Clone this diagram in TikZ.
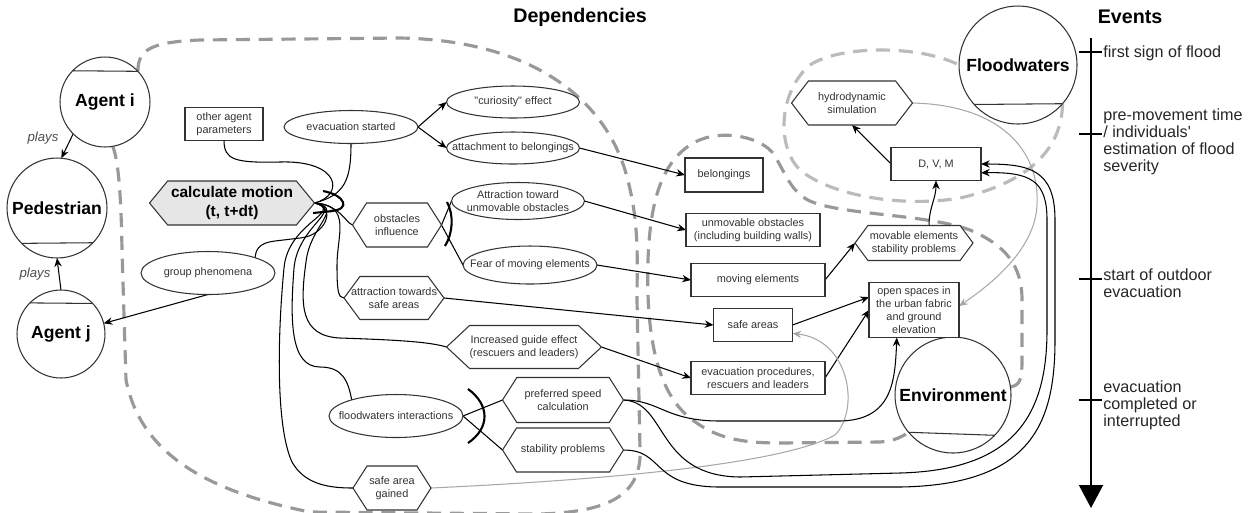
\documentclass[tikz,border=0pt]{standalone}
\usepackage{fontspec}
\setmainfont{Liberation Sans}
\newfontfamily\lsans{Liberation Sans}
\usetikzlibrary{shapes.geometric,shapes.symbols,arrows.meta,calc,backgrounds}
\definecolor{ink}{HTML}{333333}
\definecolor{dashA}{HTML}{999999}
\definecolor{dashC}{HTML}{BBBBBB}
\definecolor{lgray}{HTML}{A8A8A8}
\definecolor{hexfill}{HTML}{E6E6E6}
\tikzset{
  lbl/.style={inner sep=0pt, align=center, text=ink, font=\fontsize{6.2}{7.4}\selectfont},
  shp/.style={draw=ink, line width=0.6pt, fill=white, inner sep=0pt, outer sep=0pt},
  boxn/.style={shp, rectangle, align=center, text=ink, font=\fontsize{6.2}{7.4}\selectfont},
  ell/.style={shp, ellipse},
  hexn/.style={shp, signal, signal to=west and east},
  agent/.style={draw=ink, line width=0.6pt, fill=white, circle, inner sep=0pt, outer sep=0pt, font=\fontsize{10}{12}\selectfont\bfseries},
  conn/.style={draw=black, line width=0.6pt},
  arr/.style={conn, -{Stealth[length=5pt,width=4.2pt]}},
  garr/.style={draw=lgray, line width=0.6pt, -{Stealth[length=5pt,width=4.2pt]}},
  region/.style={line width=1.8pt, dash pattern=on 8pt off 5pt},
  gate/.style={draw=black, line width=1.2pt},
  evl/.style={inner sep=0pt, align=left, text=black!85, font=\lsans\fontsize{9.2}{9.64}\selectfont},
  tickl/.style={draw=black, line width=1.1pt},
  plays/.style={inner sep=0pt, text=black!70, font=\fontsize{7.5}{9}\selectfont\itshape},
  ttl/.style={inner sep=0pt, font=\fontsize{11.2}{13}\selectfont\bfseries},
}
\begin{document}
\begin{tikzpicture}[x=0.02cm,y=-0.02cm]
\useasboundingbox (0,0) rectangle (1253,512);

% titles
\node[ttl] (dep) at (580,17) {Dependencies};
\node[ttl] (evt) at (1130,17) {Events};

% agents / actors
\node[agent, minimum size=1.8cm] (ai) at (105,102) {Agent i};
\node[agent, minimum size=2cm] (ped) at (57,208) {Pedestrian};
\node[agent, minimum size=1.76cm] (aj) at (61,334) {Agent j};
\node[agent, minimum size=2.36cm] (fw) at (1018,65) {Floodwaters};
\node[agent, minimum size=2.32cm] (env) at (953,395) {Environment};
\node[plays] (p1) at (43,138) {plays};
\node[plays] (p2) at (35,274) {plays};

% rectangles
\node[boxn, minimum width=1.56cm, minimum height=0.66cm] (oap) at (224,124) {other agent\\parameters};
\node[boxn, minimum width=1.56cm, minimum height=0.68cm] (bel) at (724,175) {belongings};
\node[boxn, minimum width=2.68cm, minimum height=0.66cm] (unm) at (753,230) {unmovable obstacles\\(including building walls)};
\node[boxn, minimum width=2.68cm, minimum height=0.66cm] (mov) at (758,280) {moving elements};
\node[boxn, minimum width=1.8cm, minimum height=0.66cm] (dvm) at (936,164) {D, V, M};
\node[boxn, minimum width=1.8cm, minimum height=1.1cm] (open) at (914,310) {open spaces in\\the urban fabric\\and ground\\elevation};
\node[boxn, minimum width=1.58cm, minimum height=0.66cm] (safe) at (753,325) {safe areas};
\node[boxn, minimum width=2.68cm, minimum height=0.66cm] (evp) at (758,378) {evacuation procedures,\\rescuers and leaders};

% ellipses
\node[ell, minimum width=2.68cm, minimum height=0.66cm, label={[lbl]center:{evacuation started}}] (evs) at (351,127) {};
\node[ell, minimum width=2.66cm, minimum height=0.64cm, label={[lbl, font=\lsans\fontsize{6.2}{7.4}\selectfont]center:{"curiosity" effect}}] (cur) at (513,102) {};
\node[ell, minimum width=2.66cm, minimum height=0.64cm, label={[lbl]center:{attachment to belongings}}] (att) at (513,148) {};
\node[ell, minimum width=2.66cm, minimum height=0.74cm, label={[lbl]center:{Attraction toward\\unmovable obstacles}}] (atu) at (518,201) {};
\node[ell, minimum width=2.68cm, minimum height=0.76cm, label={[lbl]center:{Fear of moving elements}}] (fear) at (530,265) {};
\node[ell, minimum width=2.68cm, minimum height=0.86cm, label={[lbl]center:{group phenomena}}] (gp) at (208,273) {};
\node[ell, minimum width=2.68cm, minimum height=0.86cm, label={[lbl]center:{floodwaters interactions}}] (fi) at (396,416) {};

% hexagons
\node[hexn, fill=hexfill, signal pointer angle=101, minimum width=3.3cm, minimum height=0.88cm,
  label={[lbl, text=black, font=\fontsize{8.8}{10.8}\selectfont\bfseries]center:{calculate motion\\(t, t+dt)}}] (calc) at (232,203) {};
\node[hexn, signal pointer angle=115, minimum width=1.78cm, minimum height=0.88cm, label={[lbl]center:{obstacles\\influence}}] (obs) at (397,225) {};
\node[hexn, signal pointer angle=107, minimum width=2.0cm, minimum height=0.86cm, label={[lbl]center:{attraction towards\\safe areas}}] (ats) at (394,298) {};
\node[hexn, signal pointer angle=86, minimum width=3.1cm, minimum height=0.86cm, label={[lbl]center:{Increased guide effect\\(rescuers and leaders)}}] (gui) at (524,347) {};
\node[hexn, signal pointer angle=115, minimum width=2.42cm, minimum height=0.9cm, label={[lbl]center:{preferred speed\\calculation}}] (psc) at (563,400) {};
\node[hexn, signal pointer angle=115, minimum width=2.42cm, minimum height=0.88cm, label={[lbl]center:{stability problems}}] (spr) at (563,450) {};
\node[hexn, signal pointer angle=115, minimum width=1.56cm, minimum height=0.88cm, label={[lbl]center:{safe area\\gained}}] (sag) at (392,488) {};
\node[hexn, signal pointer angle=107, minimum width=2.36cm, minimum height=0.7cm, label={[lbl]center:{movable elements\\stability problems}}] (mvb) at (914,243) {};
\node[hexn, signal pointer angle=105, minimum width=2.42cm, minimum height=0.88cm, label={[lbl]center:{hydrodynamic\\simulation}}] (hyd) at (852,103) {};

% events timeline
\coordinate (tl0) at (1091,38);
\coordinate (tl1) at (1091,508);
\draw[line width=1.1pt, -{Triangle[length=0.46cm,width=0.48cm]}] (tl0) -- (tl1);
\node[evl, anchor=west] (e1) at (1103,53) {first sign of flood};
\node[evl, anchor=west] (e2) at (1103,142) {pre-movement time\\/ individuals'\\estimation of flood\\severity};
\node[evl, anchor=west] (e3) at (1103,283) {start of outdoor\\evacuation};
\node[evl, anchor=west] (e4) at (1103,405) {evacuation\\completed or\\interrupted};
\draw[tickl] (1079,52) -- (1102,52);
\draw[tickl] (1079,134) -- (1102,134);
\draw[tickl] (1079,279) -- (1102,279);
\draw[tickl] (1079,400) -- (1102,400);

% chords of the circles
\draw[draw=ink, line width=0.6pt] (ai.136.5) -- (ai.43.5);
\draw[draw=ink, line width=0.6pt] (ped.-135.6) -- (ped.-44.4);
\draw[draw=ink, line width=0.6pt] (aj.135.2) -- (aj.44.8);
\draw[draw=ink, line width=0.6pt] (fw.-138.6) -- (fw.-41.4);
\draw[draw=ink, line width=0.6pt] (env.-140.4) -- (env.-44.3);

\begin{pgfonlayer}{background}
% dashed regions
\draw[region, draw=dashA] (ai.43.5) .. controls (138,50) and (150,42) .. (200,40) -- (400,38)
  .. controls (520,40) and (600,90) .. (625,170) .. controls (640,220) and (637,260) .. (637,300)
  -- (640,450) .. controls (642,500) and (600,512) .. (540,514) -- (310,512)
  .. controls (200,490) and (140,450) .. (126,380) -- (122,250) .. controls (121,190) and (118,160) .. (ai.-80);
\draw[region, draw=dashA] (env.8) .. controls (1020,385) and (1022,380) .. (1022,360) -- (1022,300)
  .. controls (1022,265) and (1005,245) .. (970,230) .. controls (930,215) and (850,215) .. (815,203)
  .. controls (790,195) and (785,170) .. (772,152) .. controls (757,135) and (715,128) .. (690,145)
  .. controls (660,165) and (650,205) .. (648,260) .. controls (646,330) and (655,390) .. (690,418)
  .. controls (715,438) and (740,443) .. (780,443) -- (880,442) .. controls (895,441) and (903,436) .. (env.-140.4);
\draw[region, draw=dashC] (fw.-41.4) .. controls (1062,140) and (1040,180) .. (960,198)
  .. controls (900,208) and (830,195) .. (800,170) .. controls (775,145) and (780,90) .. (810,65)
  .. controls (840,45) and (920,45) .. (fw.west);

% connectors
\draw[arr] (ai.225) -- (ped.85);
\draw[arr] (aj.north) -- (ped.south);
\draw[arr] (gp.south) -- (aj.14);
\draw[arr] (evs.east) -- (cur.west);
\draw[arr] (evs.east) -- (att.west);
\draw[arr] (att.east) -- (bel.west);
\draw[arr] (atu.east) -- (unm.west);
\draw[arr] (fear.east) -- (mov.west);
\draw[arr] (ats.east) -- (safe.west);
\draw[arr] (gui.east) -- (evp.west);
\draw[arr] (safe.east) -- (open.164);
\draw[arr] (evp.east) -- (open.west);
\draw[arr] (mov.east) -- (mvb.west);
\draw[arr] ($(mvb.north)+(15,0)$) .. controls +(0,-18) and +(0,18) .. (dvm.south);
\draw[arr] (dvm.west) -- (hyd.south);
\draw[garr] (hyd.east) .. controls (1000,105) and (1040,150) .. (1037,205) .. controls (1035,250) and (990,285) .. (open.5);
\draw[garr] (sag.east) .. controls (600,480) and (780,465) .. (835,435) .. controls (860,410) and (850,340) .. (safe.-12);
\draw[arr] (psc.east) .. controls (660,400) and (665,421) .. (720,421) -- (840,421) .. controls (893,420) and (895,380) .. (open.-122);
\draw[arr] (psc.east) .. controls (668,402) and (655,476) .. (740,477) -- (900,473)
  .. controls (1010,470) and (1047,420) .. (1047,330) -- (1047,220) .. controls (1047,180) and (1030,172) .. (dvm.-11);
\draw[arr] (spr.east) .. controls (665,450) and (650,487) .. (720,487) -- (900,487)
  .. controls (1030,485) and (1055,425) .. (1055,340) -- (1055,220) .. controls (1055,170) and (1030,164) .. (dvm.east);
\draw[conn] (fi.east) -- (psc.west);
\draw[conn] (fi.east) -- (spr.west);
\draw[conn] (obs.east) -- (atu.west);
\draw[conn] (obs.east) -- (fear.west);

% links into calculate motion
\draw[conn] (oap.south) .. controls (224,160) and (235,163) .. (280,162) .. controls (340,160) and (345,195) .. (calc.east);
\draw[conn] (evs.south) .. controls (351,180) and (345,195) .. (calc.east);
\draw[conn] (calc.east) .. controls (340,205) and (345,222) .. (obs.west);
\draw[conn] (calc.east) .. controls (352,205) and (337,235) .. (337,265) .. controls (337,290) and (338,298) .. (ats.west);
\draw[conn] (calc.east) .. controls (338,207) and (325,236) .. (300,238) -- (275,241) .. controls (258,243) and (256,250) .. (gp.18);
\draw[conn] (calc.east) .. controls (345,208) and (310,225) .. (306,262) .. controls (300,305) and (300,336) .. (340,338) .. controls (400,340) and (430,342) .. (gui.west);
\draw[conn] (calc.east) .. controls (345,210) and (298,225) .. (294,268) .. controls (290,320) and (290,367) .. (320,367) .. controls (342,367) and (348,380) .. (fi.160);
\draw[conn] (calc.east) .. controls (345,212) and (288,222) .. (284,268) .. controls (278,330) and (275,425) .. (292,462) .. controls (305,485) and (330,488) .. (sag.west);
\end{pgfonlayer}

% gateway brackets
\draw[gate] (447,202) .. controls (454,215) and (453,233) .. (445,246);
\draw[gate] (468,389) .. controls (490,405) and (490,428) .. (468,443);
\draw[gate] (323,191) .. controls (345,195) and (352,210) .. (330,211);
\draw[gate] (313,213) -- (333,211);
\end{tikzpicture}
\end{document}
